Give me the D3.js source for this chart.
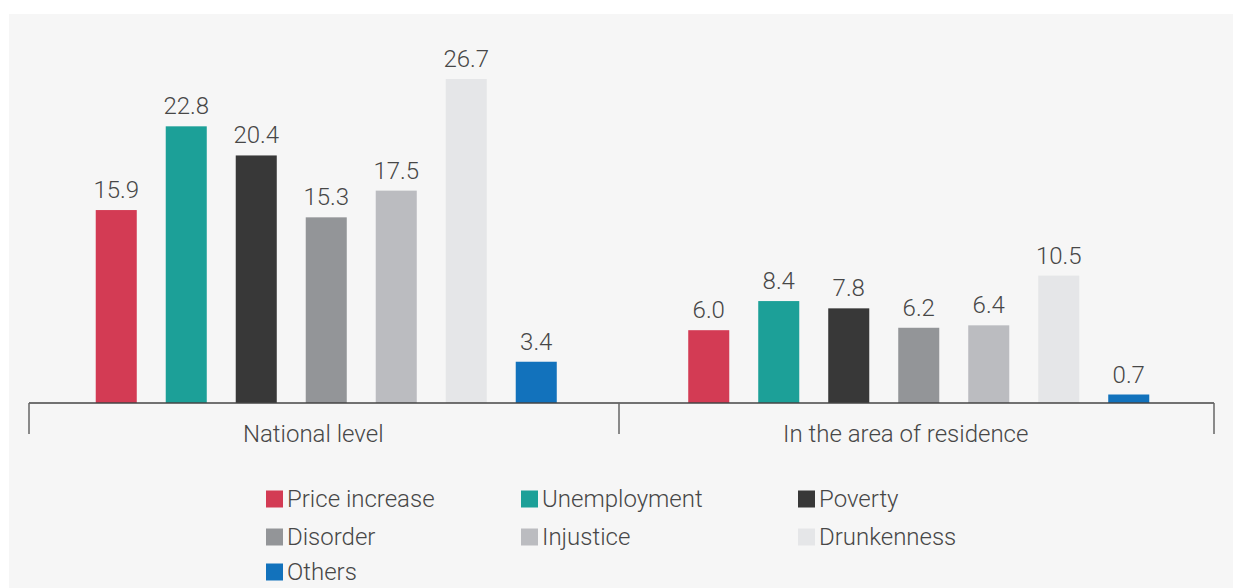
<!DOCTYPE html>
<html>
<head>
<meta charset="utf-8">
<script src="https://cdn.jsdelivr.net/npm/d3@7/dist/d3.min.js"></script>
<style>
  html, body { margin: 0; padding: 0; background: #ffffff; }
  svg { display: block; font-family: Roboto, "Noto Sans", sans-serif; }
</style>
</head>
<body>
<div id="chart"></div>
<script>
const GROUPS = ['National level', 'In the area of residence'];
const CATEGORIES = ['Price increase', 'Unemployment', 'Poverty', 'Disorder', 'Injustice', 'Drunkenness', 'Others'];
const NATIONAL = [15.9, 22.8, 20.4, 15.3, 17.5, 26.7, 3.4];
const RESIDENCE = [6.0, 8.4, 7.8, 6.2, 6.4, 10.5, 0.7];
const COLORS = ['#d33b54', '#1ca098', '#383838', '#939598', '#bbbcc0', '#e5e6e8', '#1272bc'];

const WIDTH = 1233;
const HEIGHT = 588;
const BASE_Y = 403;
const TEXT = '#474747';
const FONT = '24px';

const svg = d3.select('#chart')
  .append('svg')
  .attr('width', WIDTH)
  .attr('height', HEIGHT);

// panel background
svg.append('rect')
  .attr('x', 9).attr('y', 14)
  .attr('width', WIDTH - 9).attr('height', HEIGHT - 14)
  .attr('fill', '#f6f6f6');

const x0 = d3.scaleBand()
  .domain(GROUPS)
  .range([29, 1214])
  .padding(0);

const x1 = d3.scaleBand()
  .domain(CATEGORIES)
  .range([(x0.bandwidth() - 490) / 2, (x0.bandwidth() + 490) / 2])
  .paddingInner(0.414)
  .paddingOuter(0.207);

const y = d3.scaleLinear()
  .domain([0, 26.7])
  .range([BASE_Y, 79]);

const rows = GROUPS.map((g, i) => ({
  group: g,
  values: CATEGORIES.map((c, j) => ({ cat: c, value: (i === 0 ? NATIONAL : RESIDENCE)[j], color: COLORS[j] }))
}));

const groupG = svg.selectAll('.group')
  .data(rows)
  .join('g')
  .attr('class', 'group')
  .attr('transform', (d) => `translate(${x0(d.group) + 1},0)`);

groupG.selectAll('rect')
  .data((d) => d.values)
  .join('rect')
  .attr('x', (d) => x1(d.cat))
  .attr('y', (d) => y(d.value))
  .attr('width', x1.bandwidth())
  .attr('height', (d) => BASE_Y - y(d.value))
  .attr('fill', (d) => d.color);

groupG.selectAll('.val')
  .data((d) => d.values)
  .join('text')
  .attr('class', 'val')
  .attr('x', (d) => x1(d.cat) + x1.bandwidth() / 2)
  .attr('y', (d) => y(d.value) - 12)
  .attr('text-anchor', 'middle')
  .attr('fill', TEXT)
  .attr('font-size', FONT)
  .attr('font-weight', 300)
  .text((d) => d.value.toFixed(1));

// axis: baseline and group separators
const axisG = svg.append('g');
axisG.append('line')
  .attr('x1', x0.range()[0]).attr('x2', x0.range()[1])
  .attr('y1', BASE_Y).attr('y2', BASE_Y)
  .attr('stroke', '#444').attr('stroke-width', 1.5);

const sepX = [x0.range()[0], 619, x0.range()[1]];
axisG.selectAll('.sep')
  .data(sepX)
  .join('line')
  .attr('x1', (d) => d).attr('x2', (d) => d)
  .attr('y1', BASE_Y).attr('y2', 434)
  .attr('stroke', '#666').attr('stroke-width', 1.5);

axisG.selectAll('.glabel')
  .data(GROUPS)
  .join('text')
  .attr('x', (d) => x0(d) + x0.bandwidth() / 2 - 12)
  .attr('y', 442)
  .attr('text-anchor', 'middle')
  .attr('fill', TEXT)
  .attr('font-size', FONT)
  .attr('font-weight', 300)
  .text((d) => d);

// legend
const LEG_COLS = [266, 521, 798];
const LEG_ROWS = [499, 537, 572];
const legend = svg.selectAll('.leg')
  .data(CATEGORIES)
  .join('g')
  .attr('class', 'leg')
  .attr('transform', (d, i) => `translate(${LEG_COLS[i % 3]},${LEG_ROWS[Math.floor(i / 3)]})`);

legend.append('rect')
  .attr('x', 0).attr('y', -8.5)
  .attr('width', 17).attr('height', 17)
  .attr('fill', (d, i) => COLORS[i]);

legend.append('text')
  .attr('x', 21)
  .attr('y', 0)
  .attr('dominant-baseline', 'central')
  .attr('fill', TEXT)
  .attr('font-size', FONT)
  .attr('font-weight', 300)
  .text((d) => d);
</script>
</body>
</html>
